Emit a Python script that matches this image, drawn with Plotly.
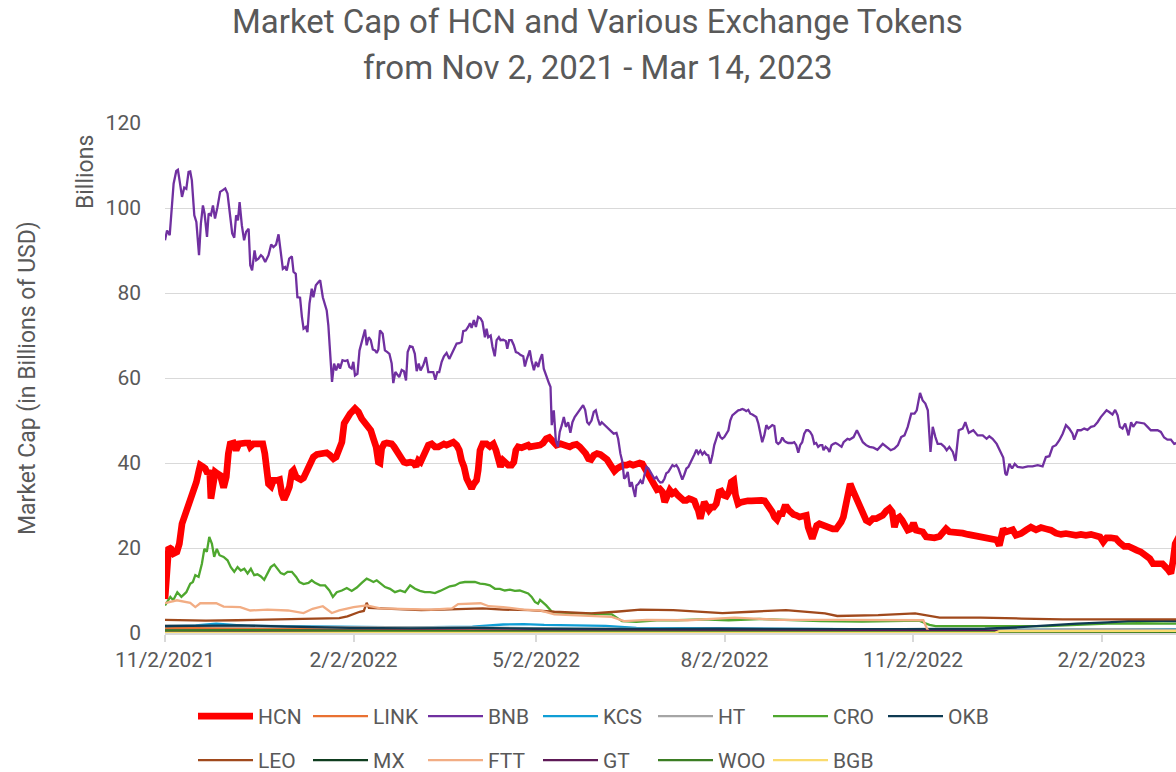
import pandas as pd
import plotly.graph_objects as go

START = pd.Timestamp("2021-11-02")

# ---- data (day offsets from 2021-11-02, values in billions USD) ----
hcn_day = [0, 1.8, 3.0, 4.2, 5.8, 7.0, 8.3, 9.4, 10.7, 12.0, 13.1, 14.3, 15.3, 16.4, 17.2, 18.5, 19.6, 20.8, 21.8, 22.4,
           23.4, 24.5, 25.6, 27.0, 28.6, 29.9, 30.9, 31.8, 33.4, 34.7, 36.0, 37.5, 39.1, 40.8, 41.6, 43.2, 44.8, 46.4,
           47.7, 48.7, 49.4, 50.5, 51.8, 52.9, 54.6, 55.9, 57.0, 58.1, 59.4, 60.7, 61.9, 62.7, 64.0, 65.1, 66.3, 67.6,
           68.9, 70.0, 71.1, 72.4, 74.1, 75.7, 77.3, 78.9, 80.6, 82.2, 83.5, 84.6, 85.4, 86.3, 87.4, 88.7, 90.3, 92.7,
           94.4, 96.0, 97.6, 99.2, 100.4, 101.7, 103.0, 104.1, 104.9, 105.7, 106.9, 108.2, 109.5, 110.6, 111.8, 113.0,
           114.4, 115.5, 116.6, 117.9, 119.6, 121.2, 122.5, 123.6, 124.7, 126.0, 127.3, 128.5, 130.1, 131.7, 133.4,
           135.0, 136.1, 137.4, 139.0, 140.7, 142.3, 143.6, 144.7, 145.9, 147.2, 148.5, 149.6, 150.7, 152.0, 152.8,
           153.7, 155.0, 156.9, 158.5, 160.2, 161.5, 162.6, 163.7, 165.0, 166.3, 167.5, 169.1, 170.2, 171.2, 172.3,
           174.0, 175.6, 177.2, 178.0, 180.5, 183.0, 184.5, 186.0, 187.5, 189.0, 191.0, 193.0, 194.3, 196.0, 197.5,
           199.0, 200.8, 202.4, 204.0, 205.3, 206.6, 207.9, 209.2, 210.8, 212.5, 214.1, 215.7, 217.0, 218.0, 219.3,
           220.6, 221.9, 223.5, 225.2, 226.8, 228.4, 230.0, 231.6, 232.9, 234.1, 235.2, 236.5, 237.8, 238.9, 240.1,
           241.4, 242.7, 243.8, 244.9, 246.3, 247.6, 248.9, 250.3, 252.0, 253.1, 254.4, 255.7, 257.0, 258.3, 259.3,
           260.2, 261.2, 262.2, 263.1, 264.1, 265.4, 266.6, 267.7, 269.0, 270.3, 271.4, 272.6, 273.9, 275.2, 276.3,
           277.5, 278.4, 279.6, 281.2, 282.8, 284.4, 286.1, 287.7, 289.3, 290.9, 292.6, 293.7, 295.0, 296.3, 297.4,
           298.6, 299.9, 301.2, 302.3, 303.4, 304.4, 305.5, 306.7, 308.0, 309.6, 311.2, 312.9, 313.8, 314.8, 315.8,
           316.9, 318.0, 319.3, 320.9, 322.6, 324.2, 325.8, 327.5, 328.8, 329.9, 331.0, 332.0, 333.2, 334.3, 335.6,
           337.2, 338.9, 340.5, 342.1, 343.7, 345.4, 347.0, 348.6, 350.2, 351.9, 353.5, 354.8, 355.9, 357.1, 358.4,
           359.7, 360.8, 362.4, 364.0, 365.2, 366.5, 368.1, 369.7, 371.4, 373.0, 375.4, 377.9, 379.5, 381.1, 382.7,
           384.4, 386.8, 389.2, 391.7, 394.1, 396.5, 399.0, 401.4, 403.8, 405.8, 407.1, 407.9, 409.0, 410.3, 412.0,
           413.6, 415.2, 417.7, 420.1, 422.5, 425.0, 427.4, 429.8, 432.3, 434.7, 437.2, 439.6, 442.0, 444.5, 446.9,
           449.3, 451.8, 454.2, 456.2, 457.8, 459.4, 461.5, 464.0, 465.9, 468.0, 470.1, 472.1, 474.0, 476.1, 478.6,
           480.5, 482.1, 484.3, 486.7, 489.1, 490.8, 491.9, 492.9, 494.0, 496.0, 497.0]
hcn_val = [8.0, 20.2, 19.8, 18.7, 19.1, 21.0, 25.7, 27.3, 28.1, 30.0, 32.0, 34.0, 35.5, 37.9, 39.5, 39.1, 38.7, 37.5, 38.3, 31.6,
           35.9, 37.9, 37.5, 37.1, 34.2, 36.7, 42.2, 44.5, 44.7, 43.0, 44.5, 44.7, 44.7, 44.7, 43.8, 44.5, 44.5, 44.5,
           44.5, 42.2, 37.5, 35.1, 34.5, 35.9, 35.9, 36.1, 32.8, 31.4, 32.8, 34.4, 37.9, 38.3, 36.7, 36.3, 36.1, 36.5,
           37.9, 39.5, 40.2, 41.4, 42.0, 42.2, 42.6, 42.4, 41.8, 41.0, 41.4, 42.6, 43.8, 44.9, 49.3, 50.4, 51.6, 52.8,
           52.0, 50.4, 49.3, 48.5, 47.7, 45.7, 43.8, 40.2, 40.0, 43.4, 44.5, 44.7, 44.7, 44.5, 43.8, 42.6,
           41.8, 41.0, 40.2, 40.0, 40.2, 40.0, 39.2, 40.6, 40.2, 41.8, 43.0, 44.2, 44.5, 43.8, 43.8,
           44.2, 44.5, 44.2, 44.7, 44.9, 44.2, 43.0, 40.6, 39.1, 36.3, 34.5, 34.0, 35.1, 35.9, 38.3,
           43.0, 44.5, 44.5, 43.9, 44.5, 43.0, 41.0, 39.1, 40.6, 39.8, 39.5, 39.5, 40.2, 43.0, 43.8,
           43.6, 43.9, 44.2, 43.8, 43.9, 44.2, 44.7, 45.7, 46.0, 45.3, 44.2, 44.5, 44.2, 43.9, 43.8,
           44.2, 44.4, 43.8, 43.0, 42.2, 41.0, 40.8, 41.8, 42.2, 42.0, 41.4, 40.8, 39.8, 38.7, 38.1,
           38.7, 39.1, 39.5, 39.5, 39.8, 39.5, 39.8, 40.0, 39.8, 38.7, 37.9, 36.7, 35.9, 34.7, 33.7,
           33.9, 33.2, 30.8, 32.4, 33.6, 32.8, 33.2, 32.4, 31.6, 31.2, 31.2, 31.6, 31.4, 31.1, 29.8,
           28.9, 26.9, 28.5, 30.8, 30.0, 28.9, 29.6, 29.6, 30.4, 33.2, 33.4, 32.4, 32.2, 33.2, 35.5,
           35.9, 32.4, 30.4, 30.8, 31.1, 31.1, 31.1, 31.2, 31.1, 31.2, 31.1, 30.4, 29.3, 28.5, 27.3,
           26.7, 28.1, 28.1, 29.6, 29.6, 28.9, 28.1, 27.9, 27.7, 27.3, 27.5, 27.7, 24.9, 23.0, 22.2,
           23.8, 25.3, 25.7, 25.3, 24.9, 24.5, 24.5, 24.5, 25.1, 26.1, 27.3, 29.3, 32.0, 35.1, 33.6,
           32.0, 29.6, 28.1, 26.5, 26.1, 26.9, 26.9, 27.3, 27.7, 28.7, 29.3, 28.5, 24.9, 26.9, 27.3,
           26.5, 25.3, 24.2, 24.5, 25.9, 24.2, 23.8, 23.8, 22.6, 22.4, 22.4, 22.7, 23.8, 24.5, 23.8,
           23.8, 23.8, 23.5, 23.2, 23.0, 22.7, 22.7, 22.6, 22.4, 21.9, 20.6, 21.8, 24.5, 23.8, 24.2,
           24.3, 23.0, 23.4, 24.2, 24.9, 24.3, 24.8, 24.5, 24.2, 23.5, 23.2, 23.4, 23.2, 23.0, 23.2,
           23.0, 23.2, 23.0, 22.6, 21.4, 22.4, 22.4, 22.2, 21.2, 20.4, 20.4, 19.8, 19.5, 19.1, 18.3,
           17.5, 16.3, 16.3, 16.3, 15.1, 14.0, 17.1, 21.0, 22.0, 21.5, 21.8]

bnb_day = [0, 1.0, 2.3, 3.4, 4.2, 5.5, 6.3, 7.1, 8.3, 9.4, 10.4, 11.5, 12.3, 13.1, 14.3, 15.3, 16.6, 17.5, 18.5, 19.3,
           20.5, 21.3, 22.4, 23.4, 24.4, 25.6, 26.9, 28.2, 29.4, 30.5, 31.8, 32.8, 33.8, 34.7, 35.6, 36.4, 37.5, 38.6,
           39.6, 40.8, 41.6, 42.5, 43.7, 44.5, 45.6, 46.8, 47.7, 48.9, 50.5, 51.8, 52.9, 54.2, 55.4, 56.2, 57.5, 58.6,
           59.4, 60.6, 61.9, 62.7, 63.8, 64.6, 65.9, 66.8, 67.6, 68.7, 69.5, 70.5, 71.6, 72.4, 73.6, 74.9, 75.7, 77.0,
           78.1, 78.9, 79.7, 80.6, 81.5, 82.5, 83.5, 84.6, 85.4, 86.6, 87.9, 89.0, 90.0, 91.1, 91.9, 92.7, 93.9, 94.9,
           96.0, 96.8, 97.6, 98.4, 99.4, 100.4, 101.4, 102.5, 103.3, 104.1, 104.9, 106.2, 107.3, 108.5, 109.5, 110.6,
           111.4, 112.4, 113.4, 114.3, 115.5, 116.6, 117.6, 118.4, 119.5, 120.8, 121.9, 122.8, 123.8, 124.7, 126.0,
           127.3, 128.5, 129.6, 130.9, 131.9, 132.9, 133.8, 135.0, 136.1, 137.4, 138.7, 139.8, 140.9, 142.3, 143.6,
           144.7, 145.5, 146.8, 147.9, 148.8, 149.6, 150.7, 151.7, 152.8, 154.0, 154.9, 156.1, 156.9, 157.7, 158.9,
           159.8, 160.9, 161.8, 162.9, 163.7, 165.0, 166.3, 167.0, 167.9, 169.1, 170.2, 171.2, 172.3, 173.5, 174.8,
           175.6, 176.4, 178.0, 178.8, 180.0, 181.0, 182.1, 182.9, 184.0, 184.8, 186.1, 187.4, 188.1, 188.7, 189.7,
           190.7, 191.7, 192.6, 193.6, 194.6, 195.6, 196.7, 197.8, 198.8, 199.9, 201.1, 202.1, 203.2, 204.0, 205.0,
           206.0, 206.9, 208.1, 209.2, 210.2, 211.2, 212.2, 213.1, 214.1, 215.4, 216.7, 217.8, 218.9, 220.3, 221.1,
           222.2, 223.2, 224.0, 224.8, 225.8, 226.8, 227.7, 228.7, 229.4, 230.0, 231.0, 232.0, 233.0, 233.9, 234.9,
           235.9, 236.9, 237.8, 238.8, 239.8, 240.7, 241.7, 242.7, 243.7, 244.6, 245.6, 246.6, 247.6, 248.5, 249.5,
           250.5, 251.4, 252.4, 253.4, 254.4, 255.4, 256.3, 257.3, 258.3, 259.3, 260.2, 261.2, 262.2, 263.2, 264.1,
           265.1, 266.1, 267.1, 268.0, 269.0, 270.0, 271.0, 271.9, 272.9, 273.9, 274.9, 275.8, 276.8, 277.8, 278.8,
           279.7, 280.7, 281.7, 282.7, 283.6, 284.6, 285.6, 286.6, 287.5, 288.5, 289.5, 290.5, 291.4, 292.4, 293.4,
           294.4, 295.3, 296.3, 297.3, 298.3, 299.2, 300.2, 301.2, 302.2, 303.1, 304.1, 305.1, 306.0, 307.0, 308.0,
           309.0, 309.9, 310.9, 311.9, 312.9, 313.8, 314.8, 315.8, 316.8, 317.7, 318.7, 319.7, 320.7, 321.3, 322.3,
           323.3, 324.2, 325.2, 326.2, 327.2, 328.1, 329.1, 330.1, 331.1, 332.0, 333.0, 334.0, 336.0, 337.6, 339.0,
           340.5, 342.1, 343.7, 345.7, 347.6, 350.2, 352.2, 354.1, 355.9, 357.6, 359.2, 360.8, 362.4, 364.1, 365.7,
           366.8, 368.4, 369.7, 371.0, 372.2, 373.5, 374.6, 375.9, 377.0, 378.7, 380.3, 381.4, 382.7, 384.4, 385.7,
           387.3, 389.2, 390.5, 392.2, 394.4, 396.5, 399.0, 400.9, 402.2, 403.8, 405.8, 407.4, 409.0, 410.0, 410.7,
           412.0, 413.3, 414.6, 416.0, 418.5, 421.0, 423.3, 425.8, 428.2, 429.8, 431.5, 433.1, 434.7, 436.3, 438.0,
           439.6, 441.2, 442.8, 443.6, 445.3, 446.9, 448.5, 450.1, 451.8, 453.4, 455.0, 456.6, 458.3, 459.4, 460.7,
           462.3, 463.6, 464.8, 465.9, 467.2, 468.5, 470.1, 471.4, 472.4, 474.0, 476.1, 477.8, 479.4, 481.0, 482.6,
           484.3, 485.9, 487.5, 489.1, 490.8, 492.4, 494.0, 496.0, 497.0]
bnb_val = [92.4, 94.7, 93.6, 100.0, 105.7, 108.7, 109.0, 106.5, 102.6, 104.8, 104.5, 108.5, 108.6, 106.5, 98.3, 96.7, 88.9,
           96.3, 100.6, 98.7, 93.2, 98.7, 98.3, 100.6, 97.5, 100.2, 103.8, 104.2, 104.6, 103.4, 97.9, 94.0, 93.0, 98.3,
           97.1, 101.4, 95.9, 92.4, 94.4, 95.1, 86.5, 85.3, 90.0, 87.7, 88.1, 88.9, 88.5, 87.3, 88.9, 91.4, 90.8, 91.4,
           93.8, 90.8, 85.7, 86.1, 85.3, 88.1, 88.6, 85.0, 84.5, 79.0, 78.9, 74.4, 71.6, 72.0, 70.8, 77.5, 81.0, 79.0,
           81.8, 82.6, 83.0, 79.0, 77.1, 75.9, 72.4, 65.7, 59.1, 63.4, 61.8, 63.4, 62.2, 64.2, 64.0, 64.2, 62.6, 62.2,
           63.8, 60.6, 61.0, 66.5, 68.5, 69.3, 71.4, 67.7, 69.6, 68.9, 66.7, 66.5, 65.9, 66.7, 71.2, 70.4, 66.5, 66.1,
           65.7, 63.4, 58.8, 61.4, 60.6, 60.2, 61.9, 61.6, 59.4, 66.1, 67.5, 67.3, 65.7, 61.6, 63.4, 61.8, 63.0, 64.9,
           61.4, 61.4, 61.4, 59.6, 61.4, 61.4, 63.8, 65.1, 65.9, 64.5, 65.7, 66.9, 68.1, 68.2, 68.5, 71.0, 71.2, 72.0,
           72.9, 71.8, 73.6, 72.0, 74.4, 74.0, 73.2, 69.6, 71.6, 69.6, 70.0, 67.3, 65.1, 68.9, 69.6, 68.9, 69.0, 68.7,
           66.9, 68.9, 68.9, 67.7, 66.1, 65.9, 65.4, 65.1, 62.7, 64.2, 66.5, 64.2, 61.8, 63.8, 62.6, 64.2, 65.6, 62.2,
           60.2, 58.7, 57.9, 48.9, 52.4, 45.3, 43.8, 47.3, 48.9, 50.8, 48.5, 49.6, 47.1, 49.6, 50.8, 51.6, 52.4, 53.2,
           53.6, 52.5, 49.6, 49.1, 50.0, 52.0, 52.4, 50.4, 48.9, 49.6, 49.1, 48.5, 47.8, 47.3, 46.9, 47.1, 45.7, 42.2,
           40.2, 36.3, 36.7, 37.9, 34.4, 35.5, 33.6, 32.0, 34.7, 35.1, 35.9, 35.1, 37.1, 39.1, 38.7, 37.9, 37.1, 36.3,
           36.7, 35.9, 35.4, 35.5, 36.3, 37.6, 37.9, 38.9, 39.5, 39.2, 39.5, 38.7, 37.5, 36.1, 37.3, 38.7, 39.1, 40.0,
           40.6, 42.0, 43.1, 42.2, 42.9, 42.0, 42.6, 42.0, 41.8, 39.8, 41.8, 44.2, 45.7, 47.3, 46.1, 45.7, 46.1, 46.9,
           47.7, 50.0, 51.2, 51.6, 52.0, 52.4, 52.5, 52.7, 52.5, 52.2, 52.5, 51.6, 51.4, 51.2, 50.8, 49.3, 46.5, 44.9,
           46.5, 48.9, 48.1, 48.5, 48.9, 48.7, 44.9, 44.5, 44.9, 46.0, 45.2, 44.9, 44.7, 44.7, 44.7, 44.9, 44.2, 42.4,
           44.2, 44.9, 46.9, 47.7, 47.7, 47.3, 46.5, 44.5, 44.7, 43.8, 44.2, 44.2, 43.0, 43.8, 43.4, 42.6, 44.2, 44.5,
           44.7, 44.5, 44.2, 43.8, 44.9, 45.3, 45.7, 45.5, 46.1, 47.7, 46.5, 44.9, 44.2, 43.8, 43.6, 43.1, 44.5, 43.8,
           43.0, 43.4, 44.2, 46.1, 46.5, 48.5, 51.6, 51.6, 52.4, 56.5, 54.7, 54.0, 52.4, 42.6, 48.5, 46.1, 44.5, 44.5,
           43.8, 43.0, 43.8, 42.6, 40.5, 47.7, 48.1, 49.6, 47.1, 47.7, 46.5, 46.5, 45.7, 46.3, 45.7, 44.5, 43.0, 41.3,
           37.5, 37.1, 39.8, 38.7, 39.8, 39.1, 38.9, 39.2, 39.2, 39.5, 39.2, 41.4, 41.6, 43.8, 44.2, 45.3, 46.9, 48.9,
           48.1, 46.9, 45.5, 47.7, 47.7, 48.1, 47.8, 48.5, 48.7, 49.6, 50.8, 51.8, 52.4, 52.0, 51.4, 52.5, 51.2, 48.5,
           48.1, 49.3, 46.5, 49.6, 48.5, 49.6, 49.4, 49.3, 48.5, 47.7, 47.7, 47.7, 47.3, 46.0, 45.5, 45.5, 44.5, 44.8,
           44.3, 44.0]

cro_day = [0, 2.6, 4.0, 6.0, 8.0, 10.4, 12.3, 13.6, 14.8, 16.4, 18.0, 19.2, 20.4, 21.6, 22.9, 24.0, 25.3, 26.6, 28.6,
           30.5, 32.1, 33.8, 35.4, 37.0, 38.7, 40.3, 41.9, 43.5, 45.1, 46.8, 48.4, 50.0, 51.6, 53.3, 54.9, 56.5, 58.1,
           59.8, 61.9, 64.0, 65.6, 67.6, 70.0, 71.6, 73.2, 75.7, 78.1, 80.2, 81.9, 83.8, 86.3, 88.7, 91.1, 93.6, 96.0,
           98.4, 100.1, 101.7, 103.3, 104.9, 107.4, 109.8, 112.2, 114.7, 117.1, 119.6, 122.0, 124.4, 126.8, 129.3,
           131.7, 134.2, 136.6, 139.0, 141.5, 143.9, 146.3, 148.8, 151.2, 153.7, 156.1, 158.5, 161.0, 163.4, 165.8,
           168.3, 170.7, 173.1, 175.6, 177.2, 178.9, 180.5, 182.0, 183.0, 186.0, 189.0, 198.0, 208.0, 218.0, 223.0,
           230.0, 240.0, 250.0, 262.0, 275.0, 290.0, 305.0, 320.0, 340.0, 360.0, 368.0, 371.0, 373.0, 376.0, 390.0,
           410.0, 430.0, 445.0, 460.0, 475.0, 490.0, 497.0]
cro_val = [6.5, 8.5, 7.7, 9.6, 8.5, 9.6, 11.6, 12.0, 13.6, 13.2, 16.3, 19.8, 19.1, 22.6, 21.0, 17.9, 19.8, 18.3, 17.9,
           17.1, 15.5, 14.4, 15.5, 14.7, 15.1, 14.0, 15.1, 13.6, 13.8, 13.3, 12.5, 14.0, 15.5, 16.1, 15.1, 14.1, 13.8,
           14.4, 14.4, 13.2, 12.0, 11.5, 11.8, 12.4, 11.8, 11.2, 11.2, 10.0, 8.5, 9.6, 10.0, 10.6, 9.9, 10.7, 11.8,
           12.8, 12.4, 12.0, 12.4, 11.8, 10.8, 10.4, 9.6, 10.0, 9.6, 11.2, 10.4, 9.9, 9.6, 9.6,
           9.4, 9.9, 10.4, 11.0, 11.2, 11.8, 12.0, 12.0, 12.0, 11.6, 11.5, 11.2, 10.4, 10.4, 10.0,
           10.2, 9.9, 10.0, 9.6, 9.3, 8.5, 7.3, 6.9, 7.8, 6.5, 4.9, 4.7, 4.6, 4.4, 2.8,
           2.6, 3.0, 3.0, 3.2, 3.0, 3.3, 3.0, 2.8, 2.7, 2.8, 2.9, 2.3, 1.9, 1.6, 1.6,
           1.5, 1.6, 1.9, 2.2, 2.3, 2.2, 2.2]

leo_day = [0, 10, 20, 35, 50, 65, 75, 85, 89, 92, 95, 97, 98.4, 99.5, 105, 115, 125, 135, 145, 155, 165, 178, 190, 208,
           220, 232, 248, 262, 272, 286, 303, 322, 328, 348, 366, 378, 398, 418, 438, 458, 492, 497]
leo_val = [3.1, 3.0, 2.9, 3.0, 3.1, 3.2, 3.3, 3.5, 3.9, 4.5, 5.0, 5.2, 7.1, 5.9, 5.8, 5.6, 5.4, 5.5, 5.7, 5.8, 5.5, 5.4,
           5.0, 4.6, 5.0, 5.5, 5.4, 5.0, 4.7, 5.0, 5.4, 4.6, 4.0, 4.2, 4.6, 3.6, 3.6, 3.4, 3.2, 3.2, 3.2, 3.2]

ftt_day = [0, 5.8, 12.3, 14.8, 17.2, 25, 28.6, 36.7, 41.6, 50, 60, 67.6, 72, 77, 81.4, 85, 92, 98.4, 105, 120, 130,
           140, 143, 154, 158, 165, 175, 183, 190, 218, 224, 235, 255, 278, 300, 330, 355, 370, 371.8, 372.5, 380,
           420, 460, 497]
ftt_val = [7.0, 7.7, 7.1, 6.1, 7.0, 7.0, 6.2, 6.1, 5.3, 5.5, 5.3, 4.7, 5.7, 6.3, 4.7, 5.3, 6.1, 6.5, 5.8, 5.7, 5.5,
           5.8, 6.8, 7.0, 6.3, 6.1, 5.5, 5.3, 4.4, 3.8, 2.8, 3.1, 3.0, 3.6, 3.1, 3.1, 3.1, 3.0, 1.0, 0.5, 0.4,
           0.35, 0.35, 0.35]

okb_day = [0, 30, 37, 60, 90, 120, 150, 180, 210, 240, 270, 300, 330, 360, 400, 415, 430, 445, 460, 470, 480, 490, 497]
okb_val = [1.6, 1.7, 1.8, 1.5, 1.2, 1.1, 1.2, 1.0, 0.9, 0.9, 1.0, 0.9, 0.9, 0.9, 1.0, 1.3, 1.8, 2.2, 2.5, 2.8, 2.9,
           2.8, 2.8]

kcs_day = [0, 15, 25, 40, 60, 90, 120, 150, 165, 175, 185, 200, 215, 230, 260, 300, 340, 380, 420, 460, 497]
kcs_val = [1.6, 1.8, 2.2, 1.7, 1.6, 1.4, 1.3, 1.5, 2.0, 2.1, 1.9, 1.8, 1.7, 1.2, 1.1, 1.0, 0.9, 0.8, 0.8, 0.9, 0.9]

ht_day = [0, 40, 90, 150, 200, 260, 320, 360, 380, 420, 460, 497]
ht_val = [1.8, 1.5, 1.4, 1.3, 1.0, 0.9, 0.9, 0.9, 0.7, 0.8, 0.9, 0.8]

link_day = [0, 20, 50, 80, 120, 180, 250, 350, 420, 497]
link_val = [1.2, 1.1, 1.0, 0.8, 0.7, 0.6, 0.5, 0.5, 0.4, 0.4]

mx_day = [0, 60, 120, 200, 300, 400, 497]
mx_val = [0.4, 0.35, 0.3, 0.25, 0.25, 0.2, 0.2]

gt_day = [0, 60, 120, 200, 300, 380, 420, 497]
gt_val = [0.6, 0.6, 0.5, 0.5, 0.5, 0.5, 0.4, 0.4]

woo_day = [0, 40, 100, 180, 260, 340, 400, 497]
woo_val = [0.6, 0.7, 0.5, 0.3, 0.25, 0.2, 0.15, 0.15]

bgb_day = [0, 100, 200, 300, 405, 407, 450, 497]
bgb_val = [0.05, 0.05, 0.05, 0.05, 0.05, 0.45, 0.5, 0.5]

tick_dates = ["2021-11-02", "2022-02-02", "2022-05-02", "2022-08-02", "2022-11-02", "2023-02-02"]
tick_labels = ["11/2/2021", "2/2/2022", "5/2/2022", "8/2/2022", "11/2/2022", "2/2/2023"]
y_ticks = [0, 20, 40, 60, 80, 100, 120]

series = [
    ("HCN", hcn_day, hcn_val, "#FF0000", 6.7, "legend"),
    ("LINK", link_day, link_val, "#E97132", 2.3, "legend"),
    ("BNB", bnb_day, bnb_val, "#7030A0", 2.3, "legend"),
    ("KCS", kcs_day, kcs_val, "#0F9ED5", 2.3, "legend"),
    ("HT", ht_day, ht_val, "#A5A5A5", 2.3, "legend"),
    ("CRO", cro_day, cro_val, "#4EA72E", 2.3, "legend"),
    ("OKB", okb_day, okb_val, "#0E3A52", 2.3, "legend"),
    ("LEO", leo_day, leo_val, "#A0491C", 2.3, "legend2"),
    ("MX", mx_day, mx_val, "#0F3D1F", 2.3, "legend2"),
    ("FTT", ftt_day, ftt_val, "#F2AD84", 2.3, "legend2"),
    ("GT", gt_day, gt_val, "#5E1A57", 2.3, "legend2"),
    ("WOO", woo_day, woo_val, "#3B7D23", 2.3, "legend2"),
    ("BGB", bgb_day, bgb_val, "#FADB6E", 2.3, "legend2"),
]

TXT = "#595959"
FONT = "Roboto"

fig = go.Figure()
for name, d, v, color, w, lg in series:
    fig.add_trace(go.Scatter(
        x=START + pd.to_timedelta(d, unit="D"), y=v, mode="lines", name=name,
        line=dict(color=color, width=w), legend=lg,
    ))

legend_common = dict(
    orientation="h", xanchor="left", yanchor="top", x=0.0277,
    entrywidth=45, entrywidthmode="pixels", itemwidth=55,
    font=dict(family=FONT, size=21, color=TXT), bgcolor="rgba(0,0,0,0)",
    traceorder="normal",
)

fig.update_layout(
    width=1176, height=772,
    margin=dict(l=165, r=0, t=123, b=139, autoexpand=False),
    paper_bgcolor="white", plot_bgcolor="white",
    font=dict(family=FONT, color=TXT),
    xaxis=dict(
        range=["2021-11-02", "2023-03-10 07:00"],
        tickvals=tick_dates, ticktext=tick_labels,
        showgrid=False, showline=True, linecolor="#D9D9D9", linewidth=1.5,
        ticks="outside", ticklen=7, tickwidth=1.5, tickcolor="#D9D9D9",
        tickfont=dict(family=FONT, size=21, color=TXT), zeroline=False,
    ),
    yaxis=dict(
        range=[0, 120], tickvals=y_ticks,
        showgrid=True, gridcolor="#D9D9D9", gridwidth=1.3,
        zeroline=False, showline=False, ticks="",
        ticklabelstandoff=23,
        tickfont=dict(family=FONT, size=21, color=TXT),
    ),
    legend=dict(legend_common, y=-0.1235),
    legend2=dict(legend_common, y=-0.2098),
    annotations=[
        dict(text="Market Cap of HCN and Various Exchange Tokens", xref="paper", yref="paper",
             x=0.4278, y=1.2, xanchor="center", yanchor="middle",
             showarrow=False, font=dict(family=FONT, size=33, color=TXT)),
        dict(text="from Nov 2, 2021 - Mar 14, 2023", xref="paper", yref="paper",
             x=0.4278, y=1.108, xanchor="center", yanchor="middle",
             showarrow=False, font=dict(family=FONT, size=33, color=TXT)),
        dict(text="Market Cap (in Billions of USD)", xref="paper", yref="paper",
             x=-0.1365, y=0.5, xanchor="center", yanchor="middle", textangle=-90,
             showarrow=False, font=dict(family=FONT, size=23, color=TXT)),
        dict(text="Billions", xref="paper", yref="paper",
             x=-0.078, y=0.904, xanchor="center", yanchor="middle", textangle=-90,
             showarrow=False, font=dict(family=FONT, size=23, color=TXT)),
    ],
)

fig.write_html("out.html", config={"displayModeBar": False},
               post_script="document.body.style.margin='0px';")
